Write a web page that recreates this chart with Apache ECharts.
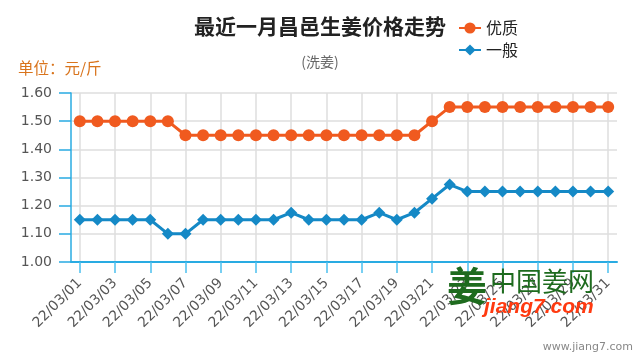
<!DOCTYPE html>
<html>
<head>
<meta charset="utf-8">
<script src="https://cdn.jsdelivr.net/npm/echarts@6/dist/echarts.min.js"></script>
<style>
html,body{margin:0;padding:0;background:#fff;}
#c{width:640px;height:360px;}
</style>
</head>
<body>
<div id="c"></div>
<script>
var dates = ['22/03/01','22/03/02','22/03/03','22/03/04','22/03/05','22/03/06','22/03/07','22/03/08','22/03/09','22/03/10',
  '22/03/11','22/03/12','22/03/13','22/03/14','22/03/15','22/03/16','22/03/17','22/03/18','22/03/19','22/03/20',
  '22/03/21','22/03/22','22/03/23','22/03/24','22/03/25','22/03/26','22/03/27','22/03/28','22/03/29','22/03/30','22/03/31'];
var premium = [1.50,1.50,1.50,1.50,1.50,1.50,1.45,1.45,1.45,1.45,1.45,1.45,1.45,1.45,1.45,1.45,1.45,1.45,1.45,1.45,
  1.50,1.55,1.55,1.55,1.55,1.55,1.55,1.55,1.55,1.55,1.55];
var ordinary = [1.15,1.15,1.15,1.15,1.15,1.10,1.10,1.15,1.15,1.15,1.15,1.15,1.175,1.15,1.15,1.15,1.15,1.175,1.15,1.175,
  1.225,1.275,1.25,1.25,1.25,1.25,1.25,1.25,1.25,1.25,1.25];
var seriesNames = ['优质','一般'];
var yTicks = {min:1.0, max:1.6, interval:0.1};

var FONT = '"Noto Sans CJK SC", "Noto Sans", sans-serif';
var NUMFONT = '"DejaVu Sans", sans-serif';
var chart = echarts.init(document.getElementById('c'), null, {renderer:'canvas'});
chart.setOption({
  animation:false,
  backgroundColor:'#fff',
  title:[
    {text:'最近一月昌邑生姜价格走势', left:'center', top:11,
     textStyle:{fontSize:21, fontWeight:'bold', color:'#222', fontFamily:FONT}},
    {text:'(洗姜)', left:'center', top:50,
     textStyle:{fontSize:14, fontWeight:'normal', color:'#666', fontFamily:FONT}},
    {text:'单位：元/斤', left:13, top:55,
     textStyle:{fontSize:15.5, fontWeight:'normal', color:'#d9741c', fontFamily:FONT}}
  ],
  legend:{
    data:seriesNames, orient:'vertical', left:453, top:15,
    itemWidth:22, itemHeight:14, itemGap:6,
    textStyle:{fontSize:16, color:'#222', fontFamily:FONT}
  },
  grid:{left:71, right:23, top:93, bottom:98, containLabel:false},
  xAxis:{
    type:'category', data:dates, boundaryGap:true,
    axisLine:{show:true, lineStyle:{color:'#29abe2', width:2}},
    axisTick:{show:true, alignWithLabel:true, interval:1, length:11, lineStyle:{color:'#4cc0ee', width:1.5}},
    axisLabel:{interval:1, rotate:45, fontSize:14, color:'#555', margin:19, fontFamily:NUMFONT},
    splitLine:{show:true, alignWithLabel:true, interval:1, lineStyle:{color:'#dedede', width:1.5}}
  },
  yAxis:{
    type:'value', min:yTicks.min, max:yTicks.max, interval:yTicks.interval,
    axisLine:{show:true, lineStyle:{color:'#29abe2', width:1.5}},
    axisTick:{show:true, length:12, lineStyle:{color:'#29abe2', width:1.5}},
    axisLabel:{fontSize:14, color:'#555', margin:19, fontFamily:NUMFONT,
      formatter:function(v){return v.toFixed(2);}},
    splitLine:{show:true, lineStyle:{color:'#dedede', width:1.5}}
  },
  series:[
    {name:seriesNames[0], type:'line', data:premium, symbol:'circle', symbolSize:12, showAllSymbol:true,
     itemStyle:{color:'#f05a1f'}, lineStyle:{color:'#f05a1f', width:3}},
    {name:seriesNames[1], type:'line', data:ordinary, symbol:'diamond', symbolSize:12, showAllSymbol:true,
     itemStyle:{color:'#1589c6'}, lineStyle:{color:'#1589c6', width:3}}
  ],
  graphic:[
    {type:'text', left:447, top:266, z:100, style:{text:'姜', fontSize:40, fontWeight:'bold', fill:'#1e6b1e', fontFamily:FONT}},
    {type:'text', left:490, top:268, z:100, style:{text:'中国姜网', fontSize:26, fill:'#1e6b1e', fontFamily:FONT}},
    {type:'text', left:484, top:297, z:100, style:{text:'jiang7.com', fontSize:21, fontWeight:'bold', fontStyle:'italic', fill:'#ff3a10', fontFamily:'"Liberation Sans", Arial, sans-serif'}},
    {type:'text', right:7, top:342, z:100, style:{text:'www.jiang7.com', fontSize:11, fill:'#888', fontFamily:NUMFONT}}
  ]
});
</script>
</body>
</html>
